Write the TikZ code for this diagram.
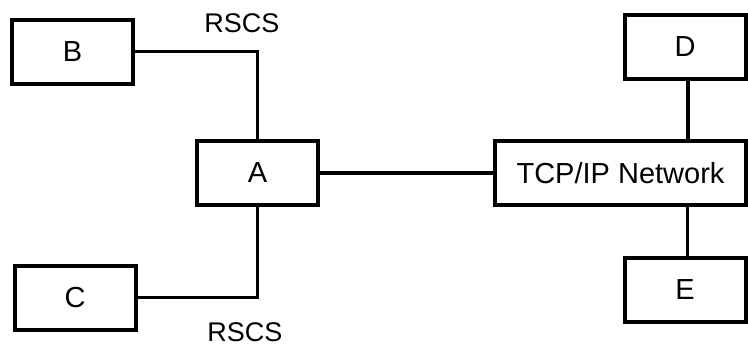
\documentclass[tikz,border=0pt]{standalone}
\usepackage{fontspec}
\setmainfont{Liberation Sans}
\usetikzlibrary{positioning}
\tikzset{
  sysbox/.style={draw=black,line width=4pt,minimum width=#1,minimum height=64pt,
    inner sep=0pt,font=\fontsize{29}{30}\selectfont},
  sysbox/.default=121pt,
  link/.style={draw=black,line width=3.5pt},
  linklabel/.style={font=\fontsize{27}{28}\selectfont,inner sep=0pt},
}
\begin{document}
\begin{tikzpicture}[x=1pt,y=-1pt]
  \useasboundingbox (0,0) rectangle (748,346);
  % systems
  \node[sysbox] (b) at (72.5,51.5) {B};
  \node[sysbox] (a) at (257.5,173) {A};
  \node[sysbox] (c) at (75,297.5) {C};
  \node[sysbox] (d) at (685,46.5) {D};
  \node[sysbox=251pt] (net) at (620.5,173) {TCP/IP Network};
  \node[sysbox] (e) at (685,290) {E};
  % links
  \draw[link] (b) -| (a);
  \draw[link] (c) -| (a);
  \draw[link] (a) -- (net);
  \draw[link] (d.south) ++(3,0) coordinate (dn) -- (dn |- net.north);
  \draw[link] (net.south) ++(67,0) coordinate (ns) -- (ns |- e.north);
  \node[linklabel] (rscs1) at (242,23) {RSCS};
  \node[linklabel] (rscs2) at (245,332) {RSCS};
\end{tikzpicture}
\end{document}
